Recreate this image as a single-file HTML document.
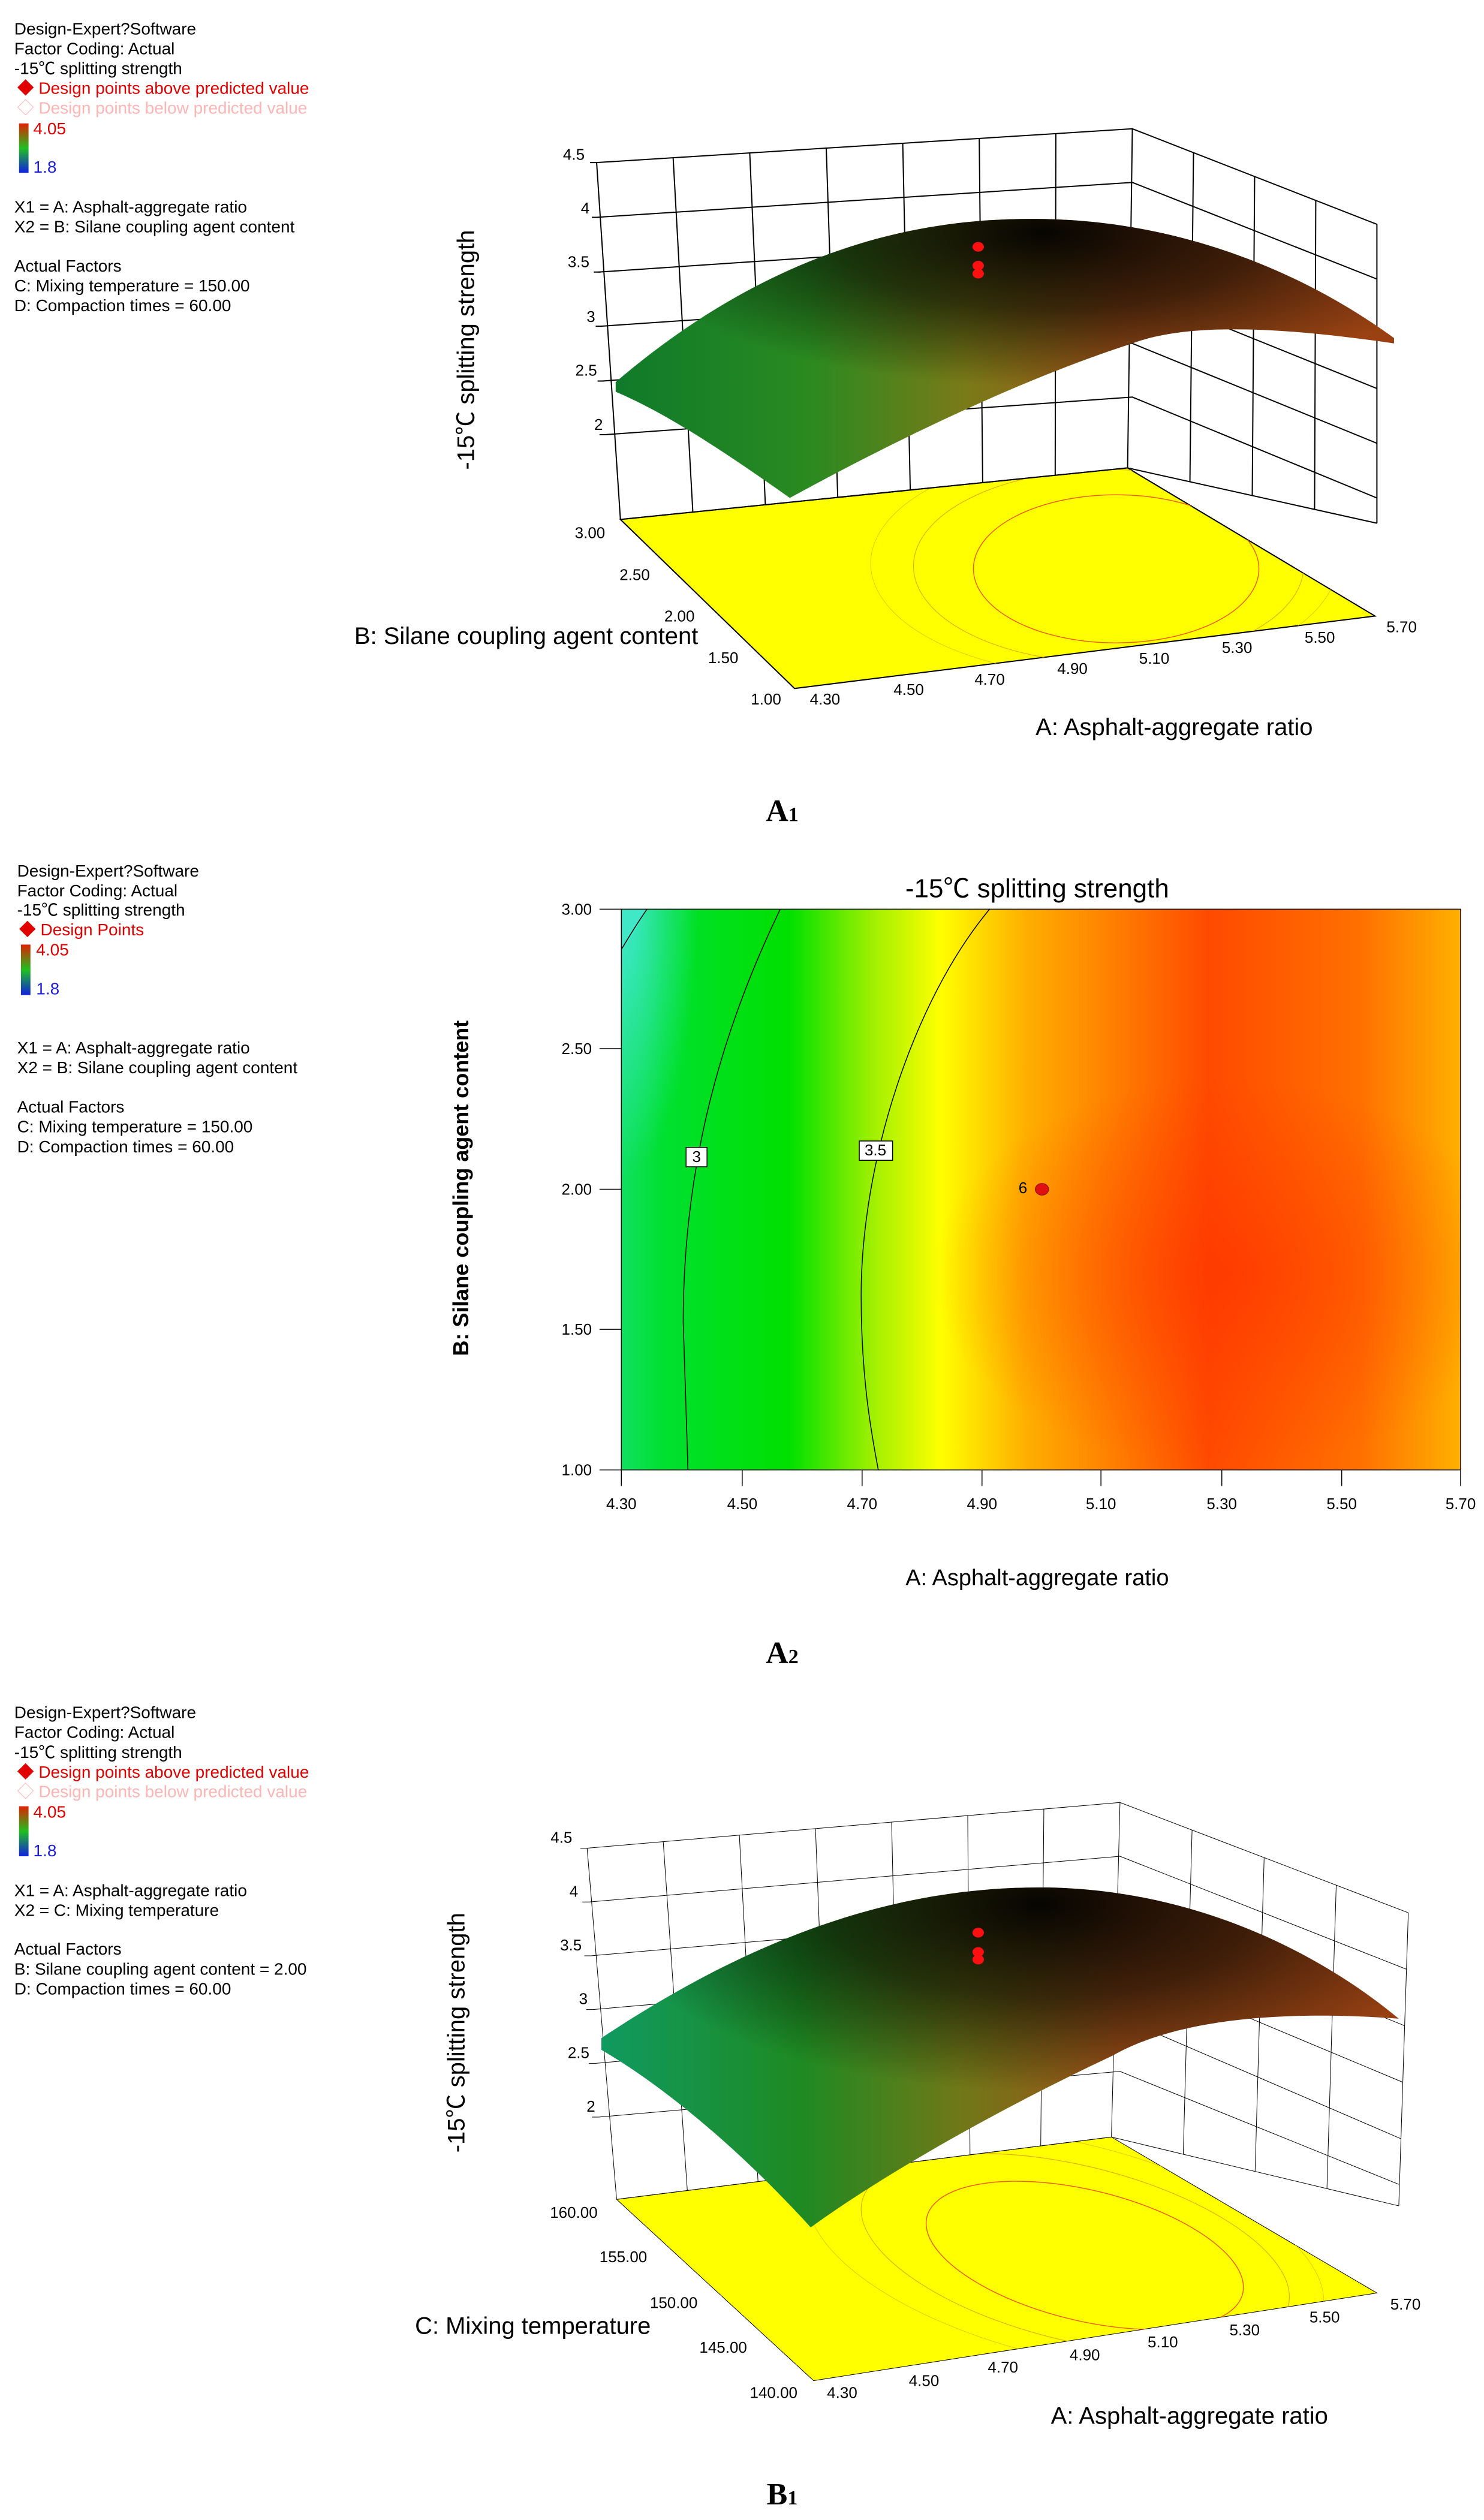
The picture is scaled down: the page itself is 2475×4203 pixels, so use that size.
<!DOCTYPE html>
<html><head><meta charset="utf-8"><style>
html,body{margin:0;padding:0;background:#fff}
svg{display:block}
text{font-family:"Liberation Sans","Noto Sans CJK SC",sans-serif}
.cap{font-family:"Liberation Serif",serif;font-weight:bold}
</style></head><body>
<svg width="2475" height="4203" viewBox="0 0 2475 4203" xmlns="http://www.w3.org/2000/svg">
<defs>
<linearGradient id="cb" x1="0" y1="0" x2="0" y2="1"><stop offset="0" stop-color="#e02000"/><stop offset=".5" stop-color="#20c020"/><stop offset="1" stop-color="#1020e0"/></linearGradient>
<linearGradient id="surfA" x1="0" y1="0" x2="1" y2="0"><stop offset="0" stop-color="#0f7a2a"/><stop offset=".25" stop-color="#2a8a20"/><stop offset=".45" stop-color="#7a7a18"/><stop offset=".65" stop-color="#a05018"/><stop offset="1" stop-color="#9a4012"/></linearGradient>
<linearGradient id="surfB" x1="0" y1="0" x2="1" y2="0"><stop offset="0" stop-color="#109a60"/><stop offset=".25" stop-color="#1e8a22"/><stop offset=".45" stop-color="#707818"/><stop offset=".65" stop-color="#a05018"/><stop offset="1" stop-color="#9a4012"/></linearGradient>
<radialGradient id="dark" cx=".55" cy=".05" r=".55"><stop offset="0" stop-color="#000" stop-opacity=".95"/><stop offset=".5" stop-color="#000" stop-opacity=".6"/><stop offset="1" stop-color="#000" stop-opacity="0"/></radialGradient>
<linearGradient id="cont" x1="0" y1="0" x2="1" y2="0">
<stop offset="0" stop-color="#10e060"/><stop offset=".05" stop-color="#00e030"/><stop offset=".2" stop-color="#00e000"/><stop offset=".3" stop-color="#a0f000"/><stop offset=".38" stop-color="#ffff00"/><stop offset=".48" stop-color="#ffb000"/><stop offset=".7" stop-color="#ff4a00"/><stop offset=".88" stop-color="#ff7000"/><stop offset="1" stop-color="#ffb000"/></linearGradient>
<radialGradient id="contR" cx=".72" cy=".65" r=".35"><stop offset="0" stop-color="#ff3000" stop-opacity=".6"/><stop offset="1" stop-color="#ff3000" stop-opacity="0"/></radialGradient>
<radialGradient id="cyan" cx="0" cy="0" r="1"><stop offset="0" stop-color="#40e8d0"/><stop offset="1" stop-color="#40e8d0" stop-opacity="0"/></radialGradient>
<clipPath id="fa"><polygon points="652,968 1185,872 1445,1148 835,1283"/></clipPath>
<clipPath id="fb"><polygon points="648,968 1168,852 1447,1142 855,1305"/></clipPath>
</defs>

<!-- ================= PANEL A1 ================= -->
<g transform="translate(0,0) scale(1.587,0.895)" stroke-width="2">
<g font-size="28">
<text transform="translate(15,64) scale(.63,1.117)">Design-Expert?Software</text>
<text transform="translate(15,101) scale(.63,1.117)">Factor Coding: Actual</text>
<text transform="translate(15,138) scale(.63,1.117)">-15℃ splitting strength</text>
<text transform="translate(18,175) scale(.63,1.117)" fill="#e00000">◆ Design points above predicted value</text>
<text transform="translate(18,212) scale(.63,1.117)" fill="#ffb4b4">◇ Design points below predicted value</text>
<rect x="20" y="230" width="10" height="92" fill="url(#cb)"/>
<text transform="translate(35,250) scale(.63,1.117)" fill="#e00000">4.05</text>
<text transform="translate(35,322) scale(.63,1.117)" fill="#2020e0">1.8</text>
<text transform="translate(15,396) scale(.63,1.117)">X1 = A: Asphalt-aggregate ratio</text>
<text transform="translate(15,433) scale(.63,1.117)">X2 = B: Silane coupling agent content</text>
<text transform="translate(15,506) scale(.63,1.117)">Actual Factors</text>
<text transform="translate(15,543) scale(.63,1.117)">C: Mixing temperature = 150.00</text>
<text transform="translate(15,580) scale(.63,1.117)">D: Compaction times  = 60.00</text>
</g>
<polygon points="652,968 1185,872 1445,1148 835,1283" fill="#ffff00" stroke="#000" vector-effect="non-scaling-stroke"/>
<g fill="none" clip-path="url(#fa)">
<ellipse cx="1173" cy="1060" rx="150" ry="138" stroke="#e86010" stroke-width="1.5" vector-effect="non-scaling-stroke"/>
<ellipse cx="1165" cy="1055" rx="205" ry="180" stroke="#e0b000" stroke-width="1.2" vector-effect="non-scaling-stroke"/>
<ellipse cx="1160" cy="1050" rx="245" ry="210" stroke="#e8c800" stroke-width="1" vector-effect="non-scaling-stroke"/>
</g>
<g stroke="#000" fill="none">
<path vector-effect="non-scaling-stroke" d="M627,303 L1190,240 L1447,418 M627,303 L652,968 M1190,240 L1185,872 M1447,418 L1447,975 M652,968 L1185,872 L1447,975
M707.4,294 L728.1,954.3 M787.9,285 L804.3,940.6 M868.3,276 L880.4,926.9 M948.7,267 L956.6,913.1 M1029.1,258 L1032.7,899.4 M1109.6,249 L1108.9,885.7
M627,405 L1190,340 L1447,520 M629,507 L1190,440 L1447,622 M631,608 L1190,540 L1447,724 M633,710 L1190,640 L1447,826 M636,810 L1190,740 L1447,928
M1254.25,284.5 L1250.5,897.75 M1318.5,329 L1316,923.5 M1382.75,373.5 L1381.5,949.25"/>
<path vector-effect="non-scaling-stroke" d="M620,303 L627,303 M622,405 L629,405 M624,507 L631,507 M626,608 L633,608 M628,710 L635,710 M630,810 L637,810"/>
</g>
<path d="M647,712 C 800,480 950,405 1090,408 C 1250,410 1380,520 1465,630 L1465,640 C 1350,610 1250,600 1190,640 C 1050,720 900,860 830,928 C 760,840 700,770 647,730 Z" fill="url(#surfA)"/>
<path d="M647,712 C 800,480 950,405 1090,408 C 1250,410 1380,520 1465,630 L1465,640 C 1350,610 1250,600 1190,640 C 1050,720 900,860 830,928 C 760,840 700,770 647,730 Z" fill="url(#dark)"/>
<g fill="#ff1010"><ellipse cx="1028" cy="460" rx="6" ry="9"/><ellipse cx="1028" cy="495" rx="6" ry="9"/><ellipse cx="1028" cy="510" rx="6" ry="9"/></g>
<g font-size="26" text-anchor="middle">
<text transform="translate(603,298) scale(.63,1.117)">4.5</text>
<text transform="translate(615,398) scale(.63,1.117)">4</text>
<text transform="translate(608,498) scale(.63,1.117)">3.5</text>
<text transform="translate(621,600) scale(.63,1.117)">3</text>
<text transform="translate(616,700) scale(.63,1.117)">2.5</text>
<text transform="translate(629,801) scale(.63,1.117)">2</text>
<text transform="translate(620,1003) scale(.63,1.117)">3.00</text>
<text transform="translate(667,1081) scale(.63,1.117)">2.50</text>
<text transform="translate(714,1158) scale(.63,1.117)">2.00</text>
<text transform="translate(760,1236) scale(.63,1.117)">1.50</text>
<text transform="translate(805,1313) scale(.63,1.117)">1.00</text>
<text transform="translate(867,1313) scale(.63,1.117)">4.30</text>
<text transform="translate(955,1295) scale(.63,1.117)">4.50</text>
<text transform="translate(1040,1276) scale(.63,1.117)">4.70</text>
<text transform="translate(1127,1256) scale(.63,1.117)">4.90</text>
<text transform="translate(1213,1237) scale(.63,1.117)">5.10</text>
<text transform="translate(1300,1217) scale(.63,1.117)">5.30</text>
<text transform="translate(1387,1198) scale(.63,1.117)">5.50</text>
<text transform="translate(1473,1178) scale(.63,1.117)">5.70</text>
</g>
<g font-size="40" text-anchor="middle">
<text transform="translate(498,652) rotate(-90) scale(1.117,.63)">-15℃  splitting strength</text>
<text transform="translate(553,1200) scale(.63,1.117)">B: Silane coupling agent content</text>
<text transform="translate(1234,1370) scale(.63,1.117)">A: Asphalt-aggregate ratio</text>
</g>
<text class="cap" font-size="52" text-anchor="middle" transform="translate(822,1530) scale(.63,1.117)">A<tspan font-size="34">1</tspan></text>
</g>

<!-- ================= PANEL A2 ================= -->
<g transform="translate(0,1400) scale(1.587,0.895)">
<g font-size="28">
<text transform="translate(18,69) scale(.63,1.117)">Design-Expert?Software</text>
<text transform="translate(18,106) scale(.63,1.117)">Factor Coding: Actual</text>
<text transform="translate(18,142) scale(.63,1.117)">-15℃ splitting strength</text>
<text transform="translate(20,179) scale(.63,1.117)" fill="#e00000">◆ Design Points</text>
<rect x="22" y="196" width="10" height="94" fill="url(#cb)"/>
<text transform="translate(38,216) scale(.63,1.117)" fill="#e00000">4.05</text>
<text transform="translate(38,289) scale(.63,1.117)" fill="#2020e0">1.8</text>
<text transform="translate(18,399) scale(.63,1.117)">X1 = A: Asphalt-aggregate ratio</text>
<text transform="translate(18,436) scale(.63,1.117)">X2 = B: Silane coupling agent content</text>
<text transform="translate(18,509) scale(.63,1.117)">Actual Factors</text>
<text transform="translate(18,546) scale(.63,1.117)">C: Mixing temperature = 150.00</text>
<text transform="translate(18,583) scale(.63,1.117)">D: Compaction times  = 60.00</text>
</g>
<rect x="653" y="130" width="882" height="1045" fill="url(#cont)"/>
<rect x="653" y="130" width="882" height="1045" fill="url(#contR)"/>
<rect x="653" y="130" width="80" height="500" fill="url(#cyan)"/>
<path d="M653,130 L680,130 C670,160 662,190 653,210 Z" fill="#40e8c8"/>
<g fill="none" stroke="#000">
<rect x="653" y="130" width="882" height="1045" vector-effect="non-scaling-stroke" stroke-width="1.5"/>
<path vector-effect="non-scaling-stroke" stroke-width="1.5" d="M820,130 C 760,350 718,600 718,900 L723,1175 M1040,130 C 960,300 905,600 905,850 C 905,1000 915,1100 923,1175 M680,130 C 668,160 660,185 653,205"/>
<path vector-effect="non-scaling-stroke" stroke-width="1.5" d="M630,130 L653,130 M630,390 L653,390 M630,652 L653,652 M630,913 L653,913 M630,1175 L653,1175 M653,1175 L653,1205 M780,1175 L780,1205 M906,1175 L906,1205 M1032,1175 L1032,1205 M1157,1175 L1157,1205 M1284,1175 L1284,1205 M1410,1175 L1410,1205 M1535,1175 L1535,1205"/>
</g>
<rect x="721" y="574" width="22" height="36" fill="#fff" stroke="#000" stroke-width="1.5" vector-effect="non-scaling-stroke"/>
<rect x="903" y="562" width="35" height="36" fill="#fff" stroke="#000" stroke-width="1.5" vector-effect="non-scaling-stroke"/>
<g font-size="26" text-anchor="middle">
<text transform="translate(732,601) scale(.63,1.117)">3</text>
<text transform="translate(920,589) scale(.63,1.117)">3.5</text>
<text transform="translate(1075,659) scale(.63,1.117)">6</text>
</g>
<ellipse cx="1095" cy="652" rx="7" ry="11" fill="#e01010" stroke="#800" stroke-width="1" vector-effect="non-scaling-stroke"/>
<g font-size="26" text-anchor="end">
<text transform="translate(622,140) scale(.63,1.117)">3.00</text>
<text transform="translate(622,400) scale(.63,1.117)">2.50</text>
<text transform="translate(622,662) scale(.63,1.117)">2.00</text>
<text transform="translate(622,923) scale(.63,1.117)">1.50</text>
<text transform="translate(622,1185) scale(.63,1.117)">1.00</text>
</g>
<g font-size="26" text-anchor="middle">
<text transform="translate(653,1248) scale(.63,1.117)">4.30</text>
<text transform="translate(780,1248) scale(.63,1.117)">4.50</text>
<text transform="translate(906,1248) scale(.63,1.117)">4.70</text>
<text transform="translate(1032,1248) scale(.63,1.117)">4.90</text>
<text transform="translate(1157,1248) scale(.63,1.117)">5.10</text>
<text transform="translate(1284,1248) scale(.63,1.117)">5.30</text>
<text transform="translate(1410,1248) scale(.63,1.117)">5.50</text>
<text transform="translate(1535,1248) scale(.63,1.117)">5.70</text>
</g>
<g text-anchor="middle">
<text font-size="44" transform="translate(1090,108) scale(.63,1.117)">-15℃ splitting strength</text>
<text font-size="36" font-weight="bold" transform="translate(492,650) rotate(-90) scale(1.117,.63)">B: Silane coupling agent content</text>
<text font-size="38" transform="translate(1090,1390) scale(.63,1.117)">A: Asphalt-aggregate ratio</text>
</g>
<text class="cap" font-size="52" text-anchor="middle" transform="translate(822,1535) scale(.63,1.117)">A<tspan font-size="34">2</tspan></text>
</g>

<!-- ================= PANEL B1 ================= -->
<g transform="translate(0,2800) scale(1.587,0.897)">
<g font-size="28">
<text transform="translate(15,73) scale(.63,1.115)">Design-Expert?Software</text>
<text transform="translate(15,110) scale(.63,1.115)">Factor Coding: Actual</text>
<text transform="translate(15,147) scale(.63,1.115)">-15℃ splitting strength</text>
<text transform="translate(18,184) scale(.63,1.115)" fill="#e00000">◆ Design points above predicted value</text>
<text transform="translate(18,220) scale(.63,1.115)" fill="#ffb4b4">◇ Design points below predicted value</text>
<rect x="20" y="237" width="10" height="93" fill="url(#cb)"/>
<text transform="translate(35,258) scale(.63,1.115)" fill="#e00000">4.05</text>
<text transform="translate(35,330) scale(.63,1.115)" fill="#2020e0">1.8</text>
<text transform="translate(15,404) scale(.63,1.115)">X1 = A: Asphalt-aggregate ratio</text>
<text transform="translate(15,441) scale(.63,1.115)">X2 = C: Mixing temperature</text>
<text transform="translate(15,513) scale(.63,1.115)">Actual Factors</text>
<text transform="translate(15,550) scale(.63,1.115)">B: Silane coupling agent content = 2.00</text>
<text transform="translate(15,587) scale(.63,1.115)">D: Compaction times  = 60.00</text>
</g>
<polygon points="648,968 1168,852 1447,1142 855,1305" fill="#ffff00" stroke="#000" vector-effect="non-scaling-stroke"/>
<g clip-path="url(#fb)" fill="none">
<ellipse cx="1140" cy="1072" rx="185" ry="112" transform="rotate(33 1140 1072)" stroke="#e86010" stroke-width="1.5" vector-effect="non-scaling-stroke"/>
<ellipse cx="1130" cy="1068" rx="250" ry="150" transform="rotate(33 1130 1068)" stroke="#e0b000" stroke-width="1.2" vector-effect="non-scaling-stroke"/>
<ellipse cx="1120" cy="1062" rx="300" ry="185" transform="rotate(33 1120 1062)" stroke="#e8c800" stroke-width="1" vector-effect="non-scaling-stroke"/>
</g>
<g stroke="#000" fill="none">
<path vector-effect="non-scaling-stroke" d="M617,315 L1177,230 L1480,435 M617,315 L648,968 M1177,230 L1168,852 M1480,435 L1470,980 M648,968 L1168,852 L1470,980
M697,302.9 L722.3,951.4 M777,290.7 L796.6,934.9 M857,278.6 L870.9,918.3 M937,266.4 L945.1,901.7 M1017,254.3 L1019.4,885.1 M1097,242.1 L1093.7,868.6
M619,415 L1177,330 L1478,540 M621,515 L1177,430 L1476,645 M623,615 L1177,530 L1474,750 M626,715 L1177,630 L1472,855 M629,815 L1177,730 L1470,940
M1252.75,281.25 L1243.5,884 M1328.5,332.5 L1319,916 M1404.25,383.75 L1394.5,948"/>
<path vector-effect="non-scaling-stroke" d="M610,315 L617,315 M612,415 L619,415 M614,515 L621,515 M616,615 L623,615 M619,715 L626,715 M622,815 L629,815"/>
</g>
<path d="M632,668 C 800,470 950,385 1100,388 C 1250,392 1380,500 1470,632 C 1380,620 1250,620 1170,700 C 1050,800 930,920 852,1020 C 780,880 700,760 632,690 Z" fill="url(#surfB)"/>
<path d="M632,668 C 800,470 950,385 1100,388 C 1250,392 1380,500 1470,632 C 1380,620 1250,620 1170,700 C 1050,800 930,920 852,1020 C 780,880 700,760 632,690 Z" fill="url(#dark)"/>
<g fill="#ff1010"><ellipse cx="1028" cy="472" rx="6" ry="9"/><ellipse cx="1028" cy="508" rx="6" ry="9"/><ellipse cx="1028" cy="522" rx="6" ry="9"/></g>
<g font-size="26" text-anchor="middle">
<text transform="translate(590,305) scale(.63,1.115)">4.5</text>
<text transform="translate(603,405) scale(.63,1.115)">4</text>
<text transform="translate(600,505) scale(.63,1.115)">3.5</text>
<text transform="translate(613,605) scale(.63,1.115)">3</text>
<text transform="translate(608,705) scale(.63,1.115)">2.5</text>
<text transform="translate(621,805) scale(.63,1.115)">2</text>
<text transform="translate(603,1002) scale(.63,1.115)">160.00</text>
<text transform="translate(655,1085) scale(.63,1.115)">155.00</text>
<text transform="translate(708,1170) scale(.63,1.115)">150.00</text>
<text transform="translate(760,1253) scale(.63,1.115)">145.00</text>
<text transform="translate(813,1337) scale(.63,1.115)">140.00</text>
<text transform="translate(885,1337) scale(.63,1.115)">4.30</text>
<text transform="translate(971,1315) scale(.63,1.115)">4.50</text>
<text transform="translate(1054,1290) scale(.63,1.115)">4.70</text>
<text transform="translate(1140,1267) scale(.63,1.115)">4.90</text>
<text transform="translate(1222,1243) scale(.63,1.115)">5.10</text>
<text transform="translate(1308,1221) scale(.63,1.115)">5.30</text>
<text transform="translate(1392,1197) scale(.63,1.115)">5.50</text>
<text transform="translate(1477,1173) scale(.63,1.115)">5.70</text>
</g>
<g font-size="40" text-anchor="middle">
<text transform="translate(488,658) rotate(-90) scale(1.115,.63)">-15℃  splitting strength</text>
<text transform="translate(560,1218) scale(.63,1.115)">C: Mixing temperature</text>
<text transform="translate(1250,1385) scale(.63,1.115)">A: Asphalt-aggregate ratio</text>
</g>
<text class="cap" font-size="52" text-anchor="middle" transform="translate(822,1535) scale(.63,1.115)">B<tspan font-size="34">1</tspan></text>
</g>
</svg>
</body></html>
